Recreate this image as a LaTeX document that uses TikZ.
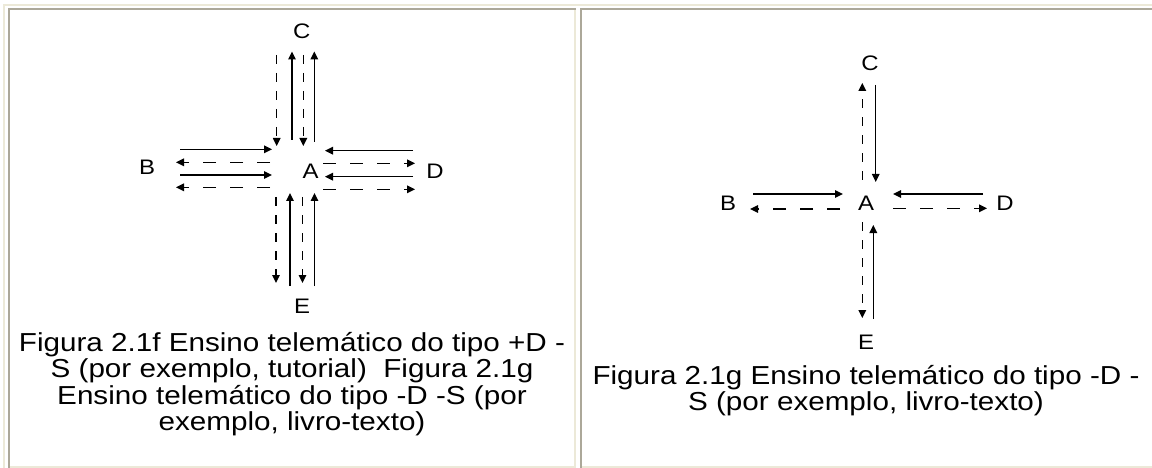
\documentclass[tikz,border=0pt]{standalone}
\usepackage{fontspec}
\setmainfont{Liberation Sans}[FakeStretch=1.14]
\usetikzlibrary{arrows.meta}
\definecolor{beigeb}{HTML}{ECE9D8}
\definecolor{grayb}{HTML}{ACA899}
\newcommand\arrw[4]{\coordinate (#1a) at (#2); \coordinate (#1b) at (#3); \draw[#4] (#1a) -- (#1b);}
\begin{document}
\begin{tikzpicture}[x=1pt,y=-1pt,
  captxt/.style={anchor=base, font=\fontsize{26}{27}\selectfont, inner sep=0pt},
  lbl/.style={font=\fontsize{21}{22}\selectfont, inner sep=0pt},
  sol/.style={line width=1.4pt, -{Triangle[length=8pt,width=7.5pt]}},
  dh/.style={sol, dash pattern=on 13pt off 14pt},
  dv/.style={sol, dash pattern=on 9pt off 9pt},
]
\useasboundingbox (0,0) rectangle (1152,468);
\fill[white] (0,0) rectangle (1152,468);
% table borders
\fill[beigeb] (3,4) rectangle (1152,6);
\fill[beigeb] (3,4) rectangle (5,468);
\fill[grayb] (8,8) rectangle (576,10);
\fill[grayb] (8,8) rectangle (10,468);
\fill[beigeb] (574,10) rectangle (576,468);
\fill[beigeb] (10,466) rectangle (576,468);
\fill[grayb] (580,8) rectangle (1152,10);
\fill[grayb] (580,8) rectangle (582,468);
\fill[beigeb] (582,466) rectangle (1152,468);

% left diagram letters
\node[lbl] (C1) at (301.7,31.7) {C};
\node[lbl] (B1) at (147,167) {B};
\node[lbl] (A1) at (310.5,171) {A};
\node[lbl] (D1) at (435,171) {D};
\node[lbl] (E1) at (302,306) {E};
% left diagram arrows
\arrw{lt1}{276.7,55}{276.7,146}{dv}
\arrw{lt2}{292,140}{292,51.5}{sol}
\arrw{lt3}{303.3,55}{303.3,146}{dv}
\arrw{lt4}{314.3,142}{314.3,51.5}{sol}
\arrw{lb1}{276,197}{276,283}{dv}
\arrw{lb2}{290,286}{290,193}{sol}
\arrw{lb3}{302.5,197}{302.5,283}{dv}
\arrw{lb4}{314.5,286}{314.5,193}{sol}
\arrw{ll1}{180,149.3}{272,149.3}{sol}
\arrw{ll2}{270,162.3}{176,162.3}{dh}
\arrw{ll3}{180,175}{272,175}{sol}
\arrw{ll4}{270,187.3}{176,187.3}{dh}
\arrw{lr1}{413,150.7}{325,150.7}{sol}
\arrw{lr2}{323,163.3}{415,163.3}{dh}
\arrw{lr3}{413,176.7}{325,176.7}{sol}
\arrw{lr4}{323,189.3}{415,189.3}{dh}
% left caption
\node[captxt] (L1) at (292,351) {Figura 2.1f Ensino telemático do tipo +D -};
\node[captxt] (L2) at (292,377.5) {S (por exemplo, tutorial)~ Figura 2.1g};
\node[captxt] (L3) at (292,404) {Ensino telemático do tipo -D -S (por};
\node[captxt] (L4) at (292,430.5) {exemplo, livro-texto)};

% right diagram letters
\node[lbl] (C2) at (870,63) {C};
\node[lbl] (B2) at (728,203) {B};
\node[lbl] (A2) at (866,203) {A};
\node[lbl] (D2) at (1005,203) {D};
\node[lbl] (E2) at (866,342) {E};
% right diagram arrows
\arrw{rt1}{862.3,180}{862.3,83}{dv}
\arrw{rt2}{875.7,85}{875.7,182}{sol}
\arrw{rl1}{753,194}{843,194}{sol}
\arrw{rl2}{840,209}{750,209}{dh}
\arrw{rr1}{983,194}{893,194}{sol}
\arrw{rr2}{893,208.3}{987,208.3}{dh}
\arrw{rb1}{862.3,222}{862.3,318}{dv}
\arrw{rb2}{873.3,319}{873.3,225}{sol}
% right caption
\node[captxt] (R1) at (866,384) {Figura 2.1g Ensino telemático do tipo -D -};
\node[captxt] (R2) at (866,410.5) {S (por exemplo, livro-texto)};
\end{tikzpicture}
\end{document}
